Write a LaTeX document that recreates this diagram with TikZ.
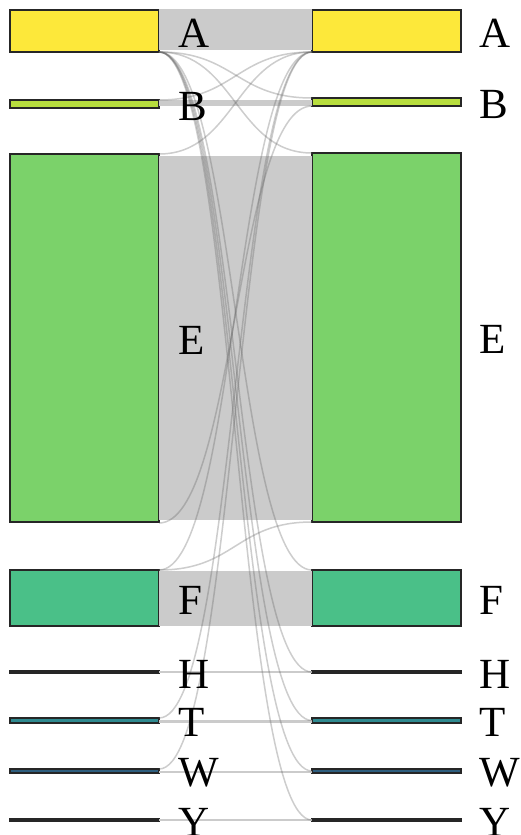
\documentclass[tikz,border=0pt]{standalone}
\usepackage{fontspec}
\setmainfont{Liberation Serif}
\usetikzlibrary{positioning}

\definecolor{colA}{HTML}{FDE83A}
\definecolor{colB}{HTML}{B8DE3E}
\definecolor{colE}{HTML}{7BD26A}
\definecolor{colF}{HTML}{4AC088}
\definecolor{colH}{HTML}{2A2A2A}
\definecolor{colT}{HTML}{2F8A90}
\definecolor{colW}{HTML}{2E5E7E}
\definecolor{bandgray}{HTML}{CBCBCB}

\begin{document}
\begin{tikzpicture}[x=1pt, y=-1pt,
    bar/.style={draw=black!85, line width=2pt, inner sep=0pt, outer sep=0pt,
                minimum width=149pt, anchor=north west},
    band/.style={fill=bandgray},
    bandline/.style={draw=bandgray, line width=2.5pt},
    flow/.style={draw=black!60, line width=1.5pt, opacity=0.33},
    lbl/.style={anchor=west, inner sep=0pt, font=\fontsize{43}{46}\selectfont}]
          \useasboundingbox (0,0) rectangle (521,835);

          % left column
          \node[bar, fill=colA, minimum height=42pt]  (lA) at (10,10) {};
          \node[bar, fill=colB, minimum height=8pt]   (lB) at (10,100) {};
          \node[bar, fill=colE, minimum height=368pt] (lE) at (10,154) {};
          \node[bar, fill=colF, minimum height=56pt]  (lF) at (10,570) {};
          \node[bar, fill=colH, minimum height=2pt]   (lH) at (10,671) {};
          \node[bar, fill=colT, minimum height=5pt]   (lT) at (10,718) {};
          \node[bar, fill=colW, minimum height=4pt]   (lW) at (10,769) {};
          \node[bar, fill=colH, minimum height=2pt]   (lY) at (10,819) {};

          % right column
          \node[bar, fill=colA, minimum height=42pt]  (rA) at (312,10) {};
          \node[bar, fill=colB, minimum height=8pt]   (rB) at (312,98) {};
          \node[bar, fill=colE, minimum height=369pt] (rE) at (312,153) {};
          \node[bar, fill=colF, minimum height=56pt]  (rF) at (312,570) {};
          \node[bar, fill=colH, minimum height=2pt]   (rH) at (312,671) {};
          \node[bar, fill=colT, minimum height=5pt]   (rT) at (312,718) {};
          \node[bar, fill=colW, minimum height=4pt]   (rW) at (312,769) {};
          \node[bar, fill=colH, minimum height=2pt]   (rY) at (312,819) {};

          % straight bands
          \fill[band] ([yshift=1pt]lA.north east) rectangle ([yshift=2pt]rA.south west);
          \fill[band] (lB.north east) rectangle (rB.south west);
          \fill[band] ([yshift=-2pt]lE.north east) rectangle ([yshift=2pt]rE.south west);
          \fill[band] ([yshift=-1pt]lF.north east) rectangle (rF.south west);
          \draw[bandline] (lH.east) -- (rH.west);
          \fill[band] ([yshift=-2pt]lT.north east) rectangle (rT.south west);
          \fill[band] ([yshift=-2pt]lW.north east) rectangle (rW.south west);
          \draw[bandline] (lY.east) -- (rY.west);

          % thin flows out of A
          \foreach \target/\anc in {rB/north west, rE/north west, rF/north west, rH/west, rT/west, rW/west, rY/west}
            \draw[flow] (lA.south east) .. controls +(76,0) and +(-76,0) .. (\target.\anc);

          % thin flows into A
          \foreach \source in {lB, lE, lF, lT, lW}
            \draw[flow] (\source.north east) .. controls +(76,0) and +(-76,0) .. (rA.south west);

          \draw[flow] (lF.north east) .. controls +(76,0) and +(-76,0) .. (rE.south west);
          \draw[flow] ([yshift=-1pt]lE.south east) .. controls +(76,0) and +(-76,0) .. (rB.south west);

          % labels
          \foreach \n/\t in {A/A, B/B, E/E, F/F, H/H, T/T, W/W, Y/Y} {
            \node[lbl] (tl\n) at ([xshift=19pt, yshift=-2pt]l\n.east) {\t};
            \node[lbl] (tr\n) at ([xshift=18pt, yshift=-2pt]r\n.east) {\t};
          }
        \end{tikzpicture}
\end{document}
